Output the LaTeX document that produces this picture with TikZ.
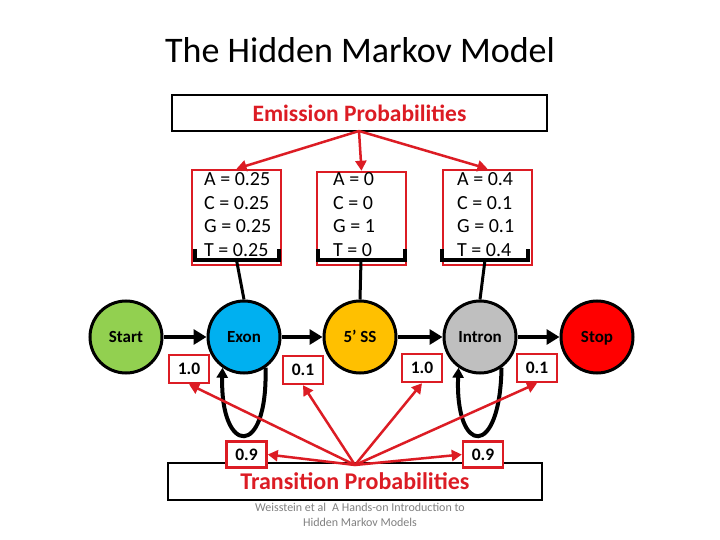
\documentclass[tikz,border=0pt]{standalone}
\usepackage{fontspec}
\setmainfont{Carlito}
\usetikzlibrary{arrows.meta,calc}
\definecolor{ered}{RGB}{220,28,36}
\definecolor{stgreen}{RGB}{146,208,80}
\definecolor{exblue}{RGB}{0,176,240}
\definecolor{ssgold}{RGB}{255,192,0}
\definecolor{ingray}{RGB}{191,191,191}
\definecolor{stred}{RGB}{255,0,0}
\definecolor{citegray}{RGB}{128,128,128}
\tikzset{
  state/.style={circle, draw=black, line width=3pt, minimum size=72pt, inner sep=0pt, text height=11pt, text depth=1pt, font=\fontsize{17}{19}\selectfont\bfseries},
  ebox/.style={draw=ered, line width=2.5pt, minimum width=89pt, minimum height=95pt, inner sep=0pt},
  etext/.style={anchor=west, inner sep=0pt, align=left, font=\fontsize{20}{23.5}\selectfont},
  lbox/.style={draw=ered, line width=2.5pt, fill=white, minimum width=40pt, minimum height=28pt, inner sep=0pt, font=\fontsize{17.5}{19}\selectfont\bfseries},
  pbox/.style={draw=black, line width=1.2pt, inner sep=0pt},
  flow/.style={line width=4.5pt, -{Triangle[length=13pt,width=15pt]}},
  loopar/.style={line width=4pt, -{Triangle[length=10pt,width=11pt]}},
  bracket/.style={line width=3.5pt, line cap=butt},
  redar/.style={draw=ered, line width=2.5pt, -{Triangle[length=10pt,width=11pt]}, color=ered},
}
\begin{document}
\begin{tikzpicture}[x=1pt,y=-1pt]
\useasboundingbox[fill=white] (0,0) rectangle (720,540);

\node[font=\fontsize{36}{40}\selectfont] (title) at (360,50) {The Hidden Markov Model};

% emission probabilities box
\node[pbox, minimum width=375pt, minimum height=36pt, text=ered, font=\fontsize{23.5}{26}\selectfont\bfseries] (emb) at (359.5,113) {Emission Probabilities};

% emission boxes
\node[ebox] (e1) at (236.5,217.5) {};
\node[ebox, minimum height=93pt] (e2) at (361.5,218.5) {};
\node[ebox] (e3) at (487.5,217.5) {};
\node[etext] (t1) at (204,214.5) {A = 0.25\\C = 0.25\\G = 0.25\\T = 0.25};
\node[etext] (t2) at (333,214.5) {A = 0\\C = 0\\G = 1\\T = 0};
\node[etext] (t3) at (457,214.5) {A = 0.4\\C = 0.1\\G = 0.1\\T = 0.4};

% states
\node[state, fill=stgreen] (start) at (126,337) {Start};
\node[state, fill=exblue] (exon) at (244,337) {Exon};
\node[state, fill=ssgold] (ss) at (360,337) {5’ SS};
\node[state, fill=ingray] (intron) at (480,337) {Intron};
\node[state, fill=stred] (stop) at (597,337) {Stop};

% brackets
\coordinate (b1) at (236.5,260);
\coordinate (b2) at (361,260);
\coordinate (b3) at (485,260);
\draw[bracket] (195,249) -- (195,260) -- (279,260) -- (279,249);
\draw[bracket] (318,249) -- (318,260) -- (405,260) -- (405,249);
\draw[bracket] (442,249) -- (442,260) -- (528,260) -- (528,249);
\draw[line width=3pt] (b1) -- (exon.north);
\draw[line width=3pt] (b2) -- (ss.north);
\draw[line width=3pt] (b3) -- (intron.north);

% emission arrows
\coordinate (esrc) at (359,131);
\draw[redar] (esrc) -- (e1.north);
\draw[redar] (esrc) -- (e2.north);
\draw[redar] (esrc) -- (e3.north);

% flow arrows
\draw[flow] (start) -- (exon);
\draw[flow] (exon) -- (ss);
\draw[flow] (ss) -- (intron);
\draw[flow] (intron) -- (stop);

% self loops
\draw[loopar] (exon.-55) .. controls (268,460) and (220,455) .. (exon.-125);
\draw[loopar] (intron.-55) .. controls (500,460) and (455,455) .. (intron.-125);

% transition probability box
\node[pbox, minimum width=374pt, minimum height=37pt, text=ered, font=\fontsize{24}{28}\selectfont\bfseries] (tpb) at (355,481.5) {Transition Probabilities};

% labels
\node[lbox] (la) at (189,369) {1.0};
\node[lbox] (lb) at (303,370) {0.1};
\node[lbox] (lc) at (422,368) {1.0};
\node[lbox] (ld) at (537,368) {0.1};
\node[lbox, minimum height=26pt] (le) at (246.5,454.5) {0.9};
\node[lbox, minimum height=26pt] (lf) at (483,454.5) {0.9};

% transition arrows
\coordinate (tsrc) at (355,465);
\draw[redar] (tsrc) -- (la.south);
\draw[redar] (tsrc) -- (lb.south);
\draw[redar] (tsrc) -- (lc.south);
\draw[redar] (tsrc) -- (ld.south);
\draw[redar] (tsrc) -- (le.east);
\draw[redar] (tsrc) -- (lf.west);

% citation
\node[text=citegray, align=center, font=\fontsize{12}{14.5}\selectfont] (cite) at (360,515) {Weisstein et al\enspace A Hands-on Introduction to\\Hidden Markov Models};
\end{tikzpicture}
\end{document}
